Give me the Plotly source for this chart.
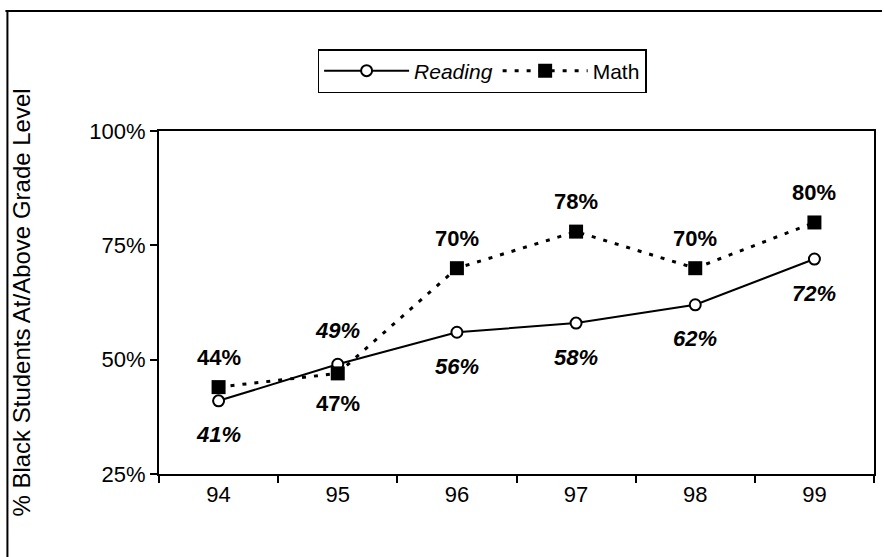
import plotly.graph_objects as go

years = ["94", "95", "96", "97", "98", "99"]
reading = [41, 49, 56, 58, 62, 72]
math = [44, 47, 70, 78, 70, 80]
# label side: +1 above, -1 below
reading_side = [-1, 1, -1, -1, -1, -1]
math_side = [1, -1, 1, 1, 1, 1]
y_ticks = [25, 50, 75, 100]
y_tick_text = [f"{v}%" for v in y_ticks]

FONT = "Liberation Sans, Arial, sans-serif"

fig = go.Figure()
fig.add_trace(go.Scatter(
    x=years, y=reading, name="<i>Reading</i>", mode="lines+markers",
    line=dict(color="black", width=2),
    marker=dict(symbol="circle", size=11, color="white", line=dict(color="black", width=2)),
))
fig.add_trace(go.Scatter(
    x=years, y=math, name="Math", mode="lines+markers",
    line=dict(color="black", width=3, dash="4px,8px"),
    marker=dict(symbol="square", size=14, color="black", line=dict(color="black", width=0)),
))

annotations = []
for i, (v, s) in enumerate(zip(reading, reading_side)):
    annotations.append(dict(x=i, y=v, xref="x", yref="y", text=f"<b><i>{v}%</i></b>", showarrow=False,
                            yshift=34 * s, font=dict(family=FONT, size=22, color="black")))
for i, (v, s) in enumerate(zip(math, math_side)):
    annotations.append(dict(x=i, y=v, xref="x", yref="y", text=f"<b>{v}%</b>", showarrow=False,
                            yshift=30 * s, font=dict(family=FONT, size=22, color="black")))

# plot area in pixels: x 159..876, y 131..474
L, R, T, B = 159, 876, 131, 474
W, H = 884, 557
def px_x(p):
    return (p - L) / (R - L)
def px_y(p):
    return (B - p) / (B - T)

shapes = [
    dict(type="line", xref="paper", yref="paper", x0=px_x(5), x1=px_x(884), y0=px_y(11), y1=px_y(11),
         line=dict(color="black", width=2)),
    dict(type="line", xref="paper", yref="paper", x0=px_x(7), x1=px_x(7), y0=px_y(11), y1=px_y(557),
         line=dict(color="black", width=2)),
]

fig.update_layout(
    width=W, height=H,
    margin=dict(l=L, r=W - R, t=T, b=H - B),
    paper_bgcolor="white", plot_bgcolor="white",
    font=dict(family=FONT, size=22, color="black"),
    showlegend=True,
    legend=dict(
        orientation="h", x=px_x(483), y=px_y(71), xanchor="center", yanchor="middle",
        bordercolor="black", borderwidth=1.5, bgcolor="white",
        font=dict(family=FONT, size=21, color="black"),
        itemwidth=85, tracegroupgap=0,
    ),
    annotations=annotations,
    shapes=shapes,
)
fig.update_xaxes(
    type="category", range=[-0.5, 5.5], showgrid=False, showline=True, linecolor="black", linewidth=2,
    mirror=True, ticks="outside", tickson="boundaries", ticklen=7, tickwidth=2, tickcolor="black",
    tickfont=dict(family=FONT, size=22, color="black"), tickangle=0,
)
fig.update_yaxes(
    range=[25, 100], tickvals=y_ticks, ticktext=y_tick_text, showgrid=False,
    showline=True, linecolor="black", linewidth=2, mirror=True,
    ticks="outside", ticklen=7, tickwidth=2, tickcolor="black", zeroline=False,
    tickfont=dict(family=FONT, size=22, color="black"),
    title=dict(text="% Black Students At/Above Grade Level", standoff=52,
               font=dict(family=FONT, size=24, color="black")),
)

fig.write_html("out.html", config={"displayModeBar": False},
               post_script="document.body.style.margin='0';")
